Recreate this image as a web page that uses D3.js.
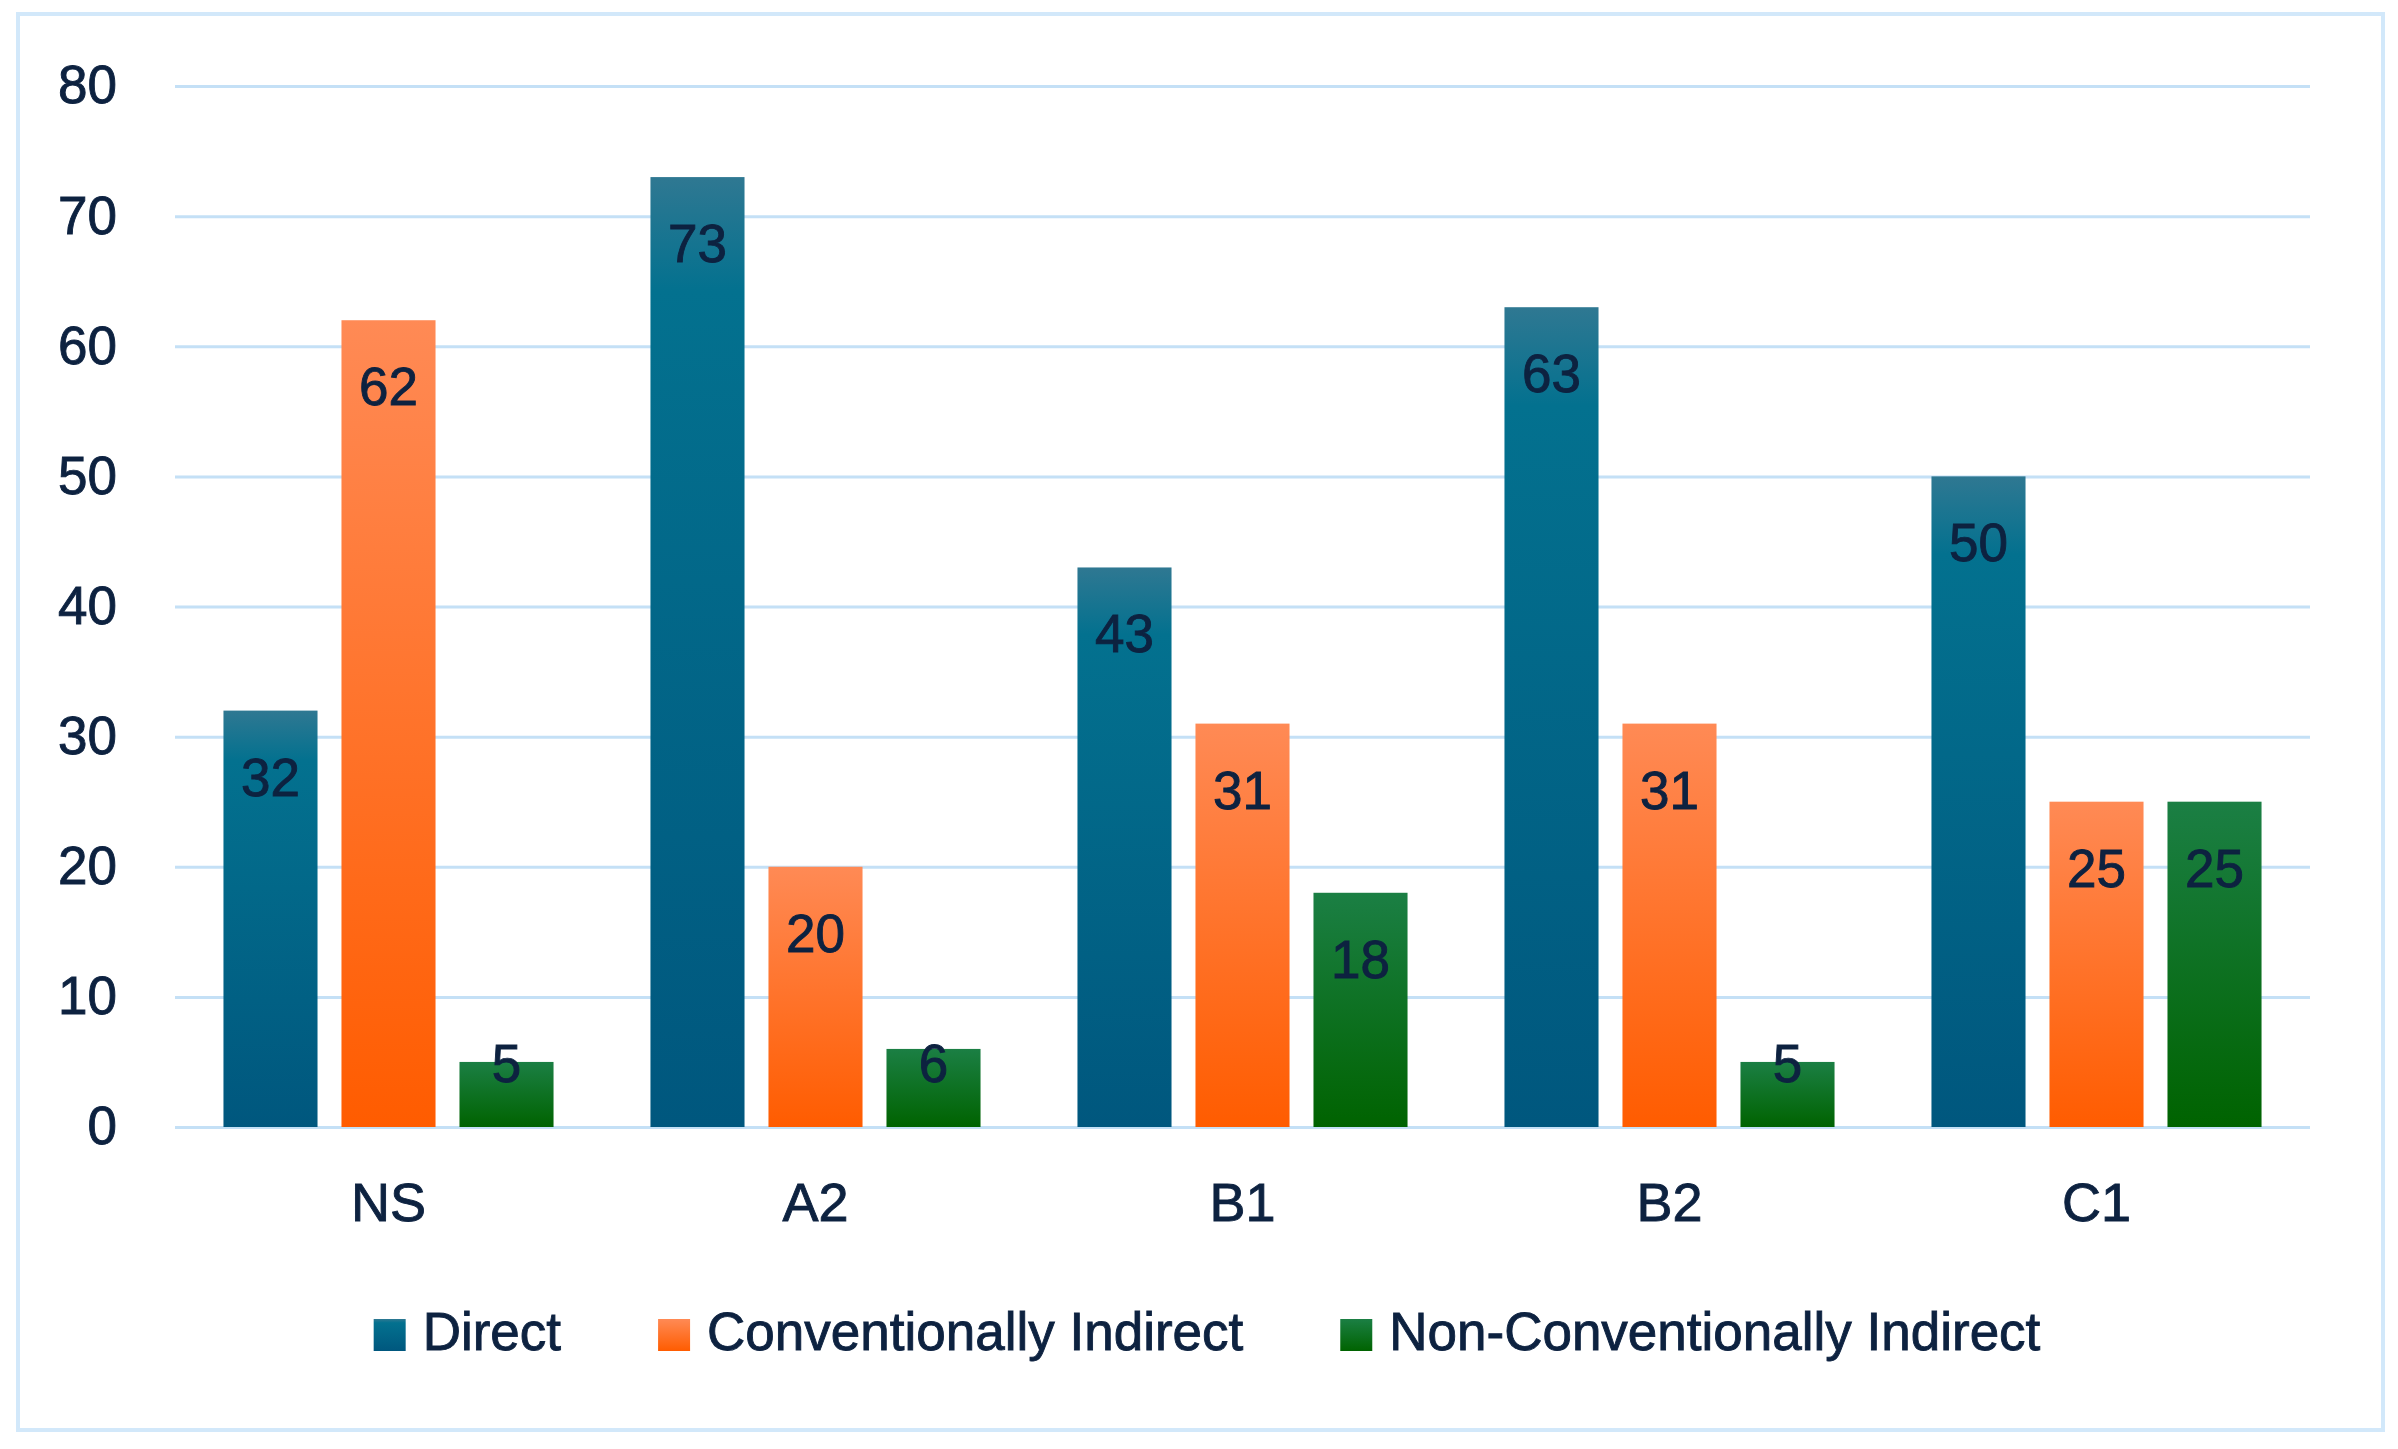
<!DOCTYPE html>
<html>
<head>
<meta charset="utf-8">
<script src="https://cdn.jsdelivr.net/npm/d3@7"></script>
<style>
  body { margin: 0; background: #fff; }
  text { font-family: "Liberation Sans", Arial, sans-serif; fill: #0d2240; stroke: #0d2240; stroke-width: 0.9px; }
</style>
</head>
<body>
<svg id="chart"></svg>
<script>
var categories = ["NS", "A2", "B1", "B2", "C1"];
var seriesNames = ["Direct", "Conventionally Indirect", "Non-Conventionally Indirect"];
var direct = [32, 73, 43, 63, 50];
var convIndirect = [62, 20, 31, 31, 25];
var nonConvIndirect = [5, 6, 18, 5, 25];
var yTicks = [0, 10, 20, 30, 40, 50, 60, 70, 80];

var svgWidth = 2398, svgHeight = 1449;
var plotLeft = 175, plotRight = 2310, plotTop = 86, plotBottom = 1127;

var svg = d3.select("#chart")
    .attr("width", svgWidth)
    .attr("height", svgHeight);

// gradients for the bars (lighter at top, darker at base)
var gradStops = [
    [["0%", "#2f7892"], ["12%", "#03718f"], ["100%", "#00577e"]],
    [["0%", "#ff8a55"], ["100%", "#ff5c00"]],
    [["0%", "#1b7f44"], ["100%", "#006300"]]
];
var defs = svg.append("defs");
gradStops.forEach(function(stops, i) {
    var g = defs.append("linearGradient")
        .attr("id", "grad" + i)
        .attr("x1", 0).attr("y1", 0).attr("x2", 0).attr("y2", 1);
    stops.forEach(function(s) {
        g.append("stop").attr("offset", s[0]).attr("stop-color", s[1]);
    });
});

// outer frame
svg.append("rect")
    .attr("x", 18).attr("y", 14)
    .attr("width", 2383 - 18).attr("height", 1430 - 14)
    .attr("fill", "#fff")
    .attr("stroke", "#d2e8fa")
    .attr("stroke-width", 4);

var yScale = d3.scaleLinear()
    .domain([0, 80])
    .range([plotBottom, plotTop]);

var x0 = d3.scaleBand()
    .domain(categories)
    .range([plotLeft, plotRight])
    .paddingInner(0.227)
    .paddingOuter(0.1135);

var x1 = d3.scaleBand()
    .domain(d3.range(seriesNames.length))
    .range([0, x0.bandwidth()])
    .paddingInner(0.203);

// gridlines + y labels via axis
var yAxis = svg.append("g")
    .attr("transform", "translate(" + plotLeft + ",0)")
    .call(d3.axisLeft(yScale)
        .tickValues(yTicks)
        .tickSize(-(plotRight - plotLeft))
        .tickPadding(58));
yAxis.select(".domain").remove();
yAxis.selectAll(".tick line")
    .attr("stroke", "#c4e0f6")
    .attr("stroke-width", 3);
yAxis.selectAll(".tick text")
    .attr("font-size", 53)
    .attr("font-family", "Liberation Sans, Arial, sans-serif")
    .attr("fill", "#0d2240");

var data = categories.map(function(c, i) {
    return { cat: c, values: [direct[i], convIndirect[i], nonConvIndirect[i]] };
});

var groups = svg.selectAll(".group")
    .data(data)
    .enter()
    .append("g")
    .attr("class", "group")
    .attr("transform", function(d) { return "translate(" + x0(d.cat) + ",0)"; });

groups.selectAll("rect")
    .data(function(d) { return d.values; })
    .enter()
    .append("rect")
    .attr("x", function(d, i) { return x1(i); })
    .attr("y", function(d) { return yScale(d); })
    .attr("width", x1.bandwidth())
    .attr("height", function(d) { return plotBottom - yScale(d); })
    .attr("fill", function(d, i) { return "url(#grad" + i + ")"; });

// value labels, inside end (clamped for short bars)
groups.selectAll(".val")
    .data(function(d) { return d.values; })
    .enter()
    .append("text")
    .attr("class", "val")
    .attr("x", function(d, i) { return x1(i) + x1.bandwidth() / 2; })
    .attr("y", function(d) { return Math.min(yScale(d) + 85, plotBottom - 45); })
    .attr("text-anchor", "middle")
    .attr("font-size", 53)
    .text(function(d) { return d; });

// category labels
var xAxis = svg.append("g")
    .attr("transform", "translate(0," + plotBottom + ")")
    .call(d3.axisBottom(x0).tickSize(0).tickPadding(56));
xAxis.select(".domain").remove();
xAxis.selectAll(".tick text")
    .attr("font-size", 54)
    .attr("font-family", "Liberation Sans, Arial, sans-serif")
    .attr("fill", "#0d2240");

// legend
var legend = svg.append("g");
var items = legend.selectAll("g")
    .data(seriesNames)
    .enter()
    .append("g");
items.append("rect")
    .attr("width", 32).attr("height", 32)
    .attr("y", 1319)
    .attr("fill", function(d, i) { return "url(#grad" + i + ")"; });
items.append("text")
    .attr("y", 1350)
    .attr("font-size", 53)
    .text(function(d) { return d; });

var widths = [];
items.selectAll("text").each(function() { widths.push(this.getComputedTextLength()); });
var itemGap = 97, boxGap = 17;
var total = d3.sum(widths) + widths.length * (32 + boxGap) + itemGap * (widths.length - 1);
var xPos = 1207 - total / 2;
items.each(function(d, i) {
    var g = d3.select(this);
    g.select("rect").attr("x", xPos);
    g.select("text").attr("x", xPos + 32 + boxGap);
    xPos += 32 + boxGap + widths[i] + itemGap;
});
</script>
</body>
</html>
